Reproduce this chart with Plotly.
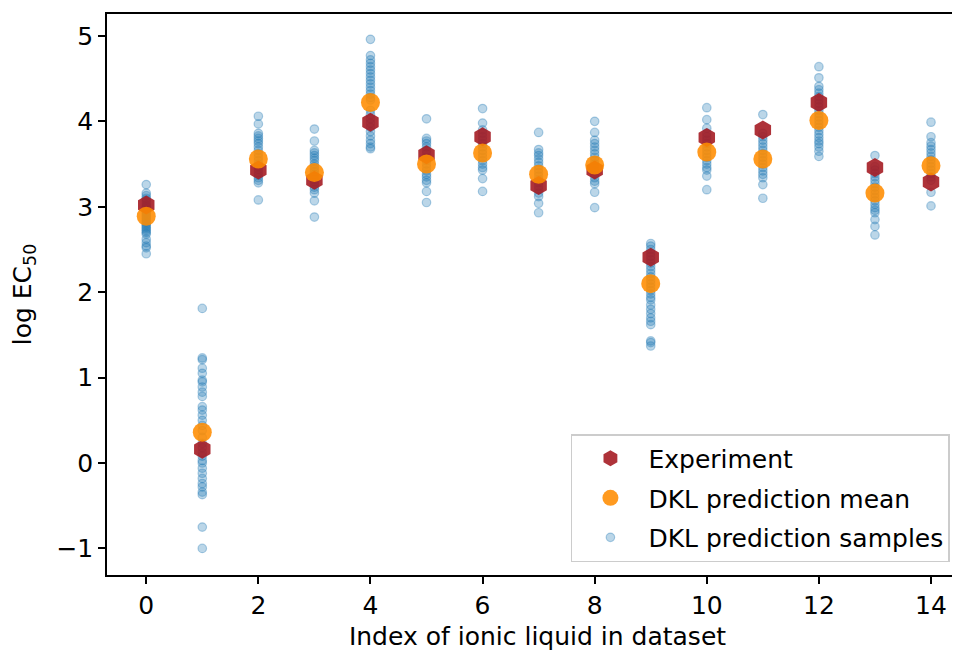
import plotly.graph_objects as go

indices = list(range(15))

experiment = [3.02, 0.16, 3.43, 3.31, 3.99, 3.61, 3.82, 3.25, 3.43, 2.41, 3.81, 3.90, 4.22, 3.46, 3.29]
pred_mean = [2.89, 0.36, 3.56, 3.40, 4.22, 3.50, 3.63, 3.38, 3.49, 2.10, 3.64, 3.56, 4.01, 3.16, 3.48]

samples = {
    0: [3.26, 3.16, 3.13, 3.10, 3.08, 3.05, 3.02, 3.00, 2.98, 2.96, 2.94, 2.92, 2.90, 2.88, 2.86, 2.84,
        2.82, 2.80, 2.78, 2.76, 2.74, 2.72, 2.70, 2.68, 2.62, 2.58, 2.54, 2.52, 2.45],
    1: [1.81, 1.23, 1.21, 1.11, 1.05, 0.97, 0.95, 0.89, 0.83, 0.78, 0.66, 0.62, 0.56, 0.50, 0.44, 0.38,
        0.30, 0.23, 0.18, 0.12, 0.08, 0.03, 0.00, -0.06, -0.12, -0.18, -0.24, -0.28, -0.34, -0.37, -0.75, -1.00],
    2: [4.06, 3.97, 3.86, 3.83, 3.80, 3.77, 3.74, 3.70, 3.66, 3.62, 3.58, 3.54, 3.50, 3.47, 3.44, 3.40,
        3.37, 3.34, 3.31, 3.28, 3.08],
    3: [3.91, 3.77, 3.66, 3.63, 3.60, 3.57, 3.54, 3.50, 3.47, 3.44, 3.41, 3.38, 3.35, 3.32, 3.29, 3.26,
        3.23, 3.20, 3.16, 3.07, 2.88],
    4: [4.96, 4.77, 4.72, 4.68, 4.64, 4.60, 4.56, 4.52, 4.48, 4.44, 4.40, 4.36, 4.32, 4.28, 4.25, 4.13,
        4.08, 4.03, 3.98, 3.93, 3.88, 3.83, 3.78, 3.74, 3.70, 3.68],
    5: [4.03, 3.80, 3.77, 3.74, 3.70, 3.66, 3.62, 3.58, 3.54, 3.50, 3.46, 3.42, 3.38, 3.35, 3.31, 3.28,
        3.18, 3.05],
    6: [4.15, 3.98, 3.90, 3.86, 3.82, 3.78, 3.74, 3.70, 3.66, 3.62, 3.58, 3.54, 3.50, 3.46, 3.43, 3.33,
        3.18],
    7: [3.87, 3.67, 3.63, 3.60, 3.56, 3.52, 3.48, 3.44, 3.40, 3.36, 3.32, 3.28, 3.24, 3.20, 3.16, 3.12,
        3.04, 2.93],
    8: [4.00, 3.87, 3.78, 3.74, 3.70, 3.66, 3.62, 3.58, 3.54, 3.50, 3.46, 3.42, 3.38, 3.34, 3.30, 3.27,
        3.17, 2.99],
    9: [2.57, 2.54, 2.50, 2.46, 2.42, 2.38, 2.34, 2.30, 2.26, 2.22, 2.18, 2.14, 2.10, 2.06, 2.02, 1.98,
        1.94, 1.91, 1.85, 1.80, 1.75, 1.70, 1.66, 1.62, 1.43, 1.41, 1.37],
    10: [4.16, 4.02, 3.92, 3.86, 3.82, 3.78, 3.74, 3.70, 3.66, 3.62, 3.58, 3.54, 3.50, 3.46, 3.43, 3.36,
         3.20],
    11: [4.08, 3.86, 3.82, 3.78, 3.74, 3.70, 3.66, 3.62, 3.58, 3.54, 3.50, 3.46, 3.42, 3.38, 3.34, 3.26,
         3.10],
    12: [4.64, 4.51, 4.41, 4.37, 4.33, 4.29, 4.25, 4.21, 4.17, 4.13, 4.09, 4.05, 4.01, 3.97, 3.93, 3.89,
         3.85, 3.81, 3.77, 3.74, 3.70, 3.65, 3.59],
    13: [3.60, 3.47, 3.43, 3.39, 3.35, 3.31, 3.27, 3.23, 3.19, 3.15, 3.11, 3.07, 3.03, 2.99, 2.96, 2.93,
         2.85, 2.77, 2.67],
    14: [3.99, 3.82, 3.75, 3.71, 3.67, 3.63, 3.59, 3.55, 3.51, 3.47, 3.43, 3.39, 3.35, 3.31, 3.17, 3.01],
}

sx, sy = [], []
for i in indices:
    for v in samples[i]:
        sx.append(i)
        sy.append(v)

fig = go.Figure()

fig.add_trace(go.Scatter(
    x=sx, y=sy, mode="markers", name="DKL prediction samples",
    legendrank=3, legendgroup="c",
    marker=dict(symbol="circle", size=8.5, color="rgba(31,119,180,0.3)",
                line=dict(width=1.2, color="rgba(31,119,180,0.35)")),
))
fig.add_trace(go.Scatter(
    x=indices, y=experiment, mode="markers", name="Experiment",
    legendrank=1, legendgroup="a",
    marker=dict(symbol="hexagon", size=19, color="rgba(165,28,36,0.9)", line=dict(width=0)),
))
fig.add_trace(go.Scatter(
    x=indices, y=pred_mean, mode="markers", name="DKL prediction mean",
    legendrank=2, legendgroup="b",
    marker=dict(symbol="circle", size=19, color="rgba(255,140,0,0.88)", line=dict(width=0)),
))

font_family = "DejaVu Sans"
fs = 25
fig.update_layout(
    width=960, height=652,
    margin=dict(l=99, r=0, t=6, b=85),
    plot_bgcolor="white", paper_bgcolor="white",
    font=dict(family=font_family, size=fs, color="black"),
    showlegend=True,
    legend=dict(
        x=0.979, y=0.023, xanchor="right", yanchor="bottom",
        bgcolor="rgba(255,255,255,0.8)", bordercolor="#cccccc", borderwidth=1.5,
        font=dict(size=fs), traceorder="grouped", itemsizing="trace",
        tracegroupgap=4, itemwidth=66,
    ),
    xaxis=dict(
        range=[-0.7, 14.66], tickmode="array", tickvals=[0, 2, 4, 6, 8, 10, 12, 14],
        showgrid=False, zeroline=False, showline=True, linecolor="black", linewidth=1.5,
        mirror=True, ticks="outside", ticklen=7, tickwidth=1.5, tickcolor="black",
        tickfont=dict(size=fs),
        title=dict(text="Index of ionic liquid in dataset", font=dict(size=fs), standoff=9),
    ),
    yaxis=dict(
        range=[-1.311, 5.257], tickmode="array", tickvals=[-1, 0, 1, 2, 3, 4, 5],
        showgrid=False, zeroline=False, showline=True, linecolor="black", linewidth=1.5,
        mirror=False, ticks="outside", ticklen=7, tickwidth=1.5, tickcolor="black",
        tickfont=dict(size=fs),
        title=dict(text="log EC<sub>50</sub>", font=dict(size=fs), standoff=19),
    ),
)

fig.write_html("out.html")
